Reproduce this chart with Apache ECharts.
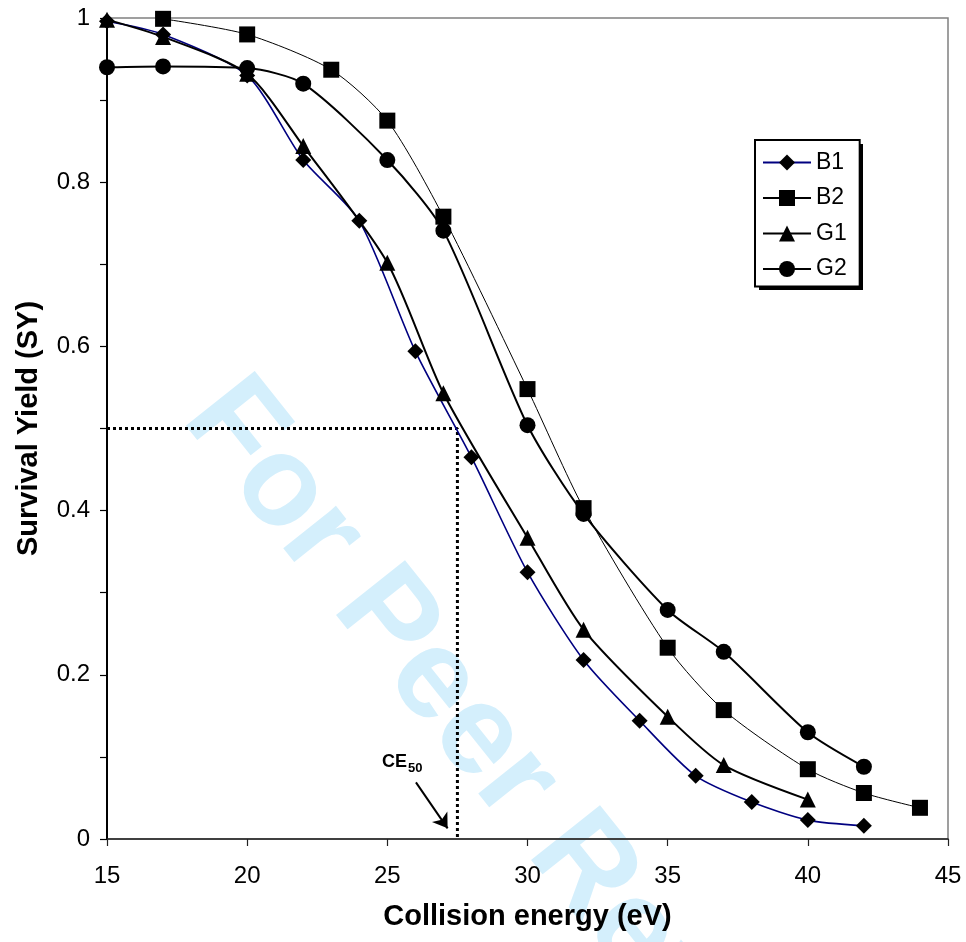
<!DOCTYPE html>
<html>
<head>
<meta charset="utf-8">
<script src="https://cdn.jsdelivr.net/npm/echarts@6/dist/echarts.min.js"></script>
<style>html,body{margin:0;padding:0;background:#fff}#c{width:966px;height:942px}</style>
</head>
<body>
<div id="c"></div>
<script>
// ---- data ----
const energyB1 = [15, 17, 20, 22, 24, 26, 28, 30, 32, 34, 36, 38, 40, 42];
const valuesB1 = [0.996, 0.980, 0.930, 0.827, 0.753, 0.594, 0.465, 0.325, 0.218, 0.144, 0.077, 0.045, 0.023, 0.016];
const energyB2 = [17, 20, 23, 25, 27, 30, 32, 35, 37, 40, 42, 44];
const valuesB2 = [0.999, 0.980, 0.937, 0.875, 0.758, 0.548, 0.403, 0.233, 0.157, 0.085, 0.056, 0.038];
const energyG1 = [15, 17, 20, 22, 25, 27, 30, 32, 35, 37, 40];
const valuesG1 = [0.998, 0.977, 0.932, 0.844, 0.702, 0.543, 0.367, 0.255, 0.149, 0.090, 0.048];
const energyG2 = [15, 17, 20, 22, 25, 27, 30, 32, 35, 37, 40, 42];
const valuesG2 = [0.940, 0.941, 0.939, 0.920, 0.827, 0.741, 0.504, 0.396, 0.279, 0.228, 0.130, 0.088];
const seriesNames = ['B1', 'B2', 'G1', 'G2'];
const ce50Energy = 27.5;
const ce50Yield = 0.5;
const xTicks = [15, 20, 25, 30, 35, 40, 45];
const yTicks = [0, 0.2, 0.4, 0.6, 0.8, 1];
const arrowFrom = [26.02, 0.069];
const arrowTo = [27.15, 0.013];
const ceLabelAt = [24.81, 0.088];
const watermarkText = 'For Peer Review';

const FONT = "'Liberation Sans', Arial, sans-serif";
const zip = (xs, ys) => xs.map((x, i) => [x, ys[i]]);

const chart = echarts.init(document.getElementById('c'), null, {renderer: 'canvas'});

function lineSeries(name, xs, ys, symbol, lineColor, width) {
  return {
    name, type: 'line', data: zip(xs, ys), smooth: 0.25, clip: false,
    symbol, symbolSize: 16, showSymbol: true,
    itemStyle: {color: '#000'},
    lineStyle: {color: lineColor, width},
    emphasis: {disabled: true}, z: 3
  };
}

const watermark = {
  type: 'text', x: 208, y: 397, rotation: -51.5 * Math.PI / 180, z: -10, silent: true,
  style: {text: watermarkText, fontFamily: FONT, fontWeight: 'bold', fontSize: 128,
    fill: '#d4effc', align: 'left', verticalAlign: 'middle'}
};
const legendShadow = {
  type: 'rect', z: -1, silent: true,
  shape: {x: 759, y: 144, width: 104, height: 146},
  style: {fill: '#000'}
};

const option = {
  animation: false,
  backgroundColor: '#fff',
  grid: {left: 107, right: 18, top: 18, bottom: 103, show: true, borderColor: '#808080', borderWidth: 1.5,
    containLabel: false, outerBoundsMode: 'none'},
  xAxis: {
    type: 'value', min: xTicks[0], max: xTicks[xTicks.length - 1], interval: 5,
    name: 'Collision energy (eV)', nameLocation: 'middle', nameGap: 63,
    nameTextStyle: {fontFamily: FONT, fontWeight: 'bold', fontSize: 29, color: '#000'},
    axisLine: {show: true, lineStyle: {color: '#222', width: 1.5}},
    axisTick: {show: true, inside: false, length: 7, lineStyle: {color: '#222', width: 1.2}},
    axisLabel: {fontFamily: FONT, fontSize: 24, color: '#000', margin: 25},
    splitLine: {show: false}
  },
  yAxis: {
    type: 'value', min: yTicks[0], max: yTicks[yTicks.length - 1], interval: 0.2,
    name: 'Survival Yield (SY)', nameLocation: 'middle', nameGap: 64,
    nameTextStyle: {fontFamily: FONT, fontWeight: 'bold', fontSize: 29, color: '#000'},
    axisLine: {show: true, lineStyle: {color: '#000', width: 2}},
    axisTick: {show: true, length: 7, lineStyle: {color: '#000', width: 1.2}},
    minorTick: {show: true, splitNumber: 2, length: 7, lineStyle: {color: '#000', width: 1.2}},
    axisLabel: {fontFamily: FONT, fontSize: 24, color: '#000', margin: 17,
      formatter: v => (Math.round(v * 10) / 10).toString()},
    splitLine: {show: false}
  },
  legend: {
    data: seriesNames, orient: 'vertical', left: 755, top: 140,
    padding: [11, 13, 6, 7], itemGap: 12.5, itemWidth: 48, itemHeight: 20,
    backgroundColor: '#fff', borderColor: '#000', borderWidth: 2,
    textStyle: {fontFamily: FONT, fontSize: 23, color: '#000'},
    selectedMode: false
  },
  graphic: [watermark, legendShadow],
  series: [
    {
      name: 'ce50', type: 'line', data: [[xTicks[0], ce50Yield], [ce50Energy, ce50Yield], [ce50Energy, 0]],
      symbol: 'none', lineStyle: {color: '#000', width: 3, type: [3, 3]}, z: 2, silent: true,
      markLine: {
        silent: true, symbol: ['none', 'arrow'], symbolSize: 14,
        lineStyle: {color: '#000', width: 2, type: 'solid'}, label: {show: false},
        emphasis: {disabled: true},
        data: [[{coord: arrowFrom}, {coord: arrowTo}]]
      }
    },
    lineSeries('B1', energyB1, valuesB1, 'diamond', '#000080', 1.6),
    lineSeries('B2', energyB2, valuesB2, 'rect', '#000', 1),
    lineSeries('G1', energyG1, valuesG1, 'triangle', '#000', 2),
    lineSeries('G2', energyG2, valuesG2, 'circle', '#000', 2)
  ]
};
chart.setOption(option);

const p = chart.convertToPixel({gridIndex: 0}, ceLabelAt);
chart.setOption({
  graphic: [
    watermark,
    legendShadow,
    {type: 'text', x: p[0], y: p[1] + 4, z: 10, silent: true,
      style: {text: 'CE', fontFamily: FONT, fontWeight: 'bold', fontSize: 18, fill: '#000',
        align: 'left', verticalAlign: 'bottom'}},
    {type: 'text', x: p[0] + 26, y: p[1] + 8, z: 10, silent: true,
      style: {text: '50', fontFamily: FONT, fontWeight: 'bold', fontSize: 13, fill: '#000',
        align: 'left', verticalAlign: 'bottom'}}
  ]
}, {replaceMerge: ['graphic']});
</script>
</body>
</html>
